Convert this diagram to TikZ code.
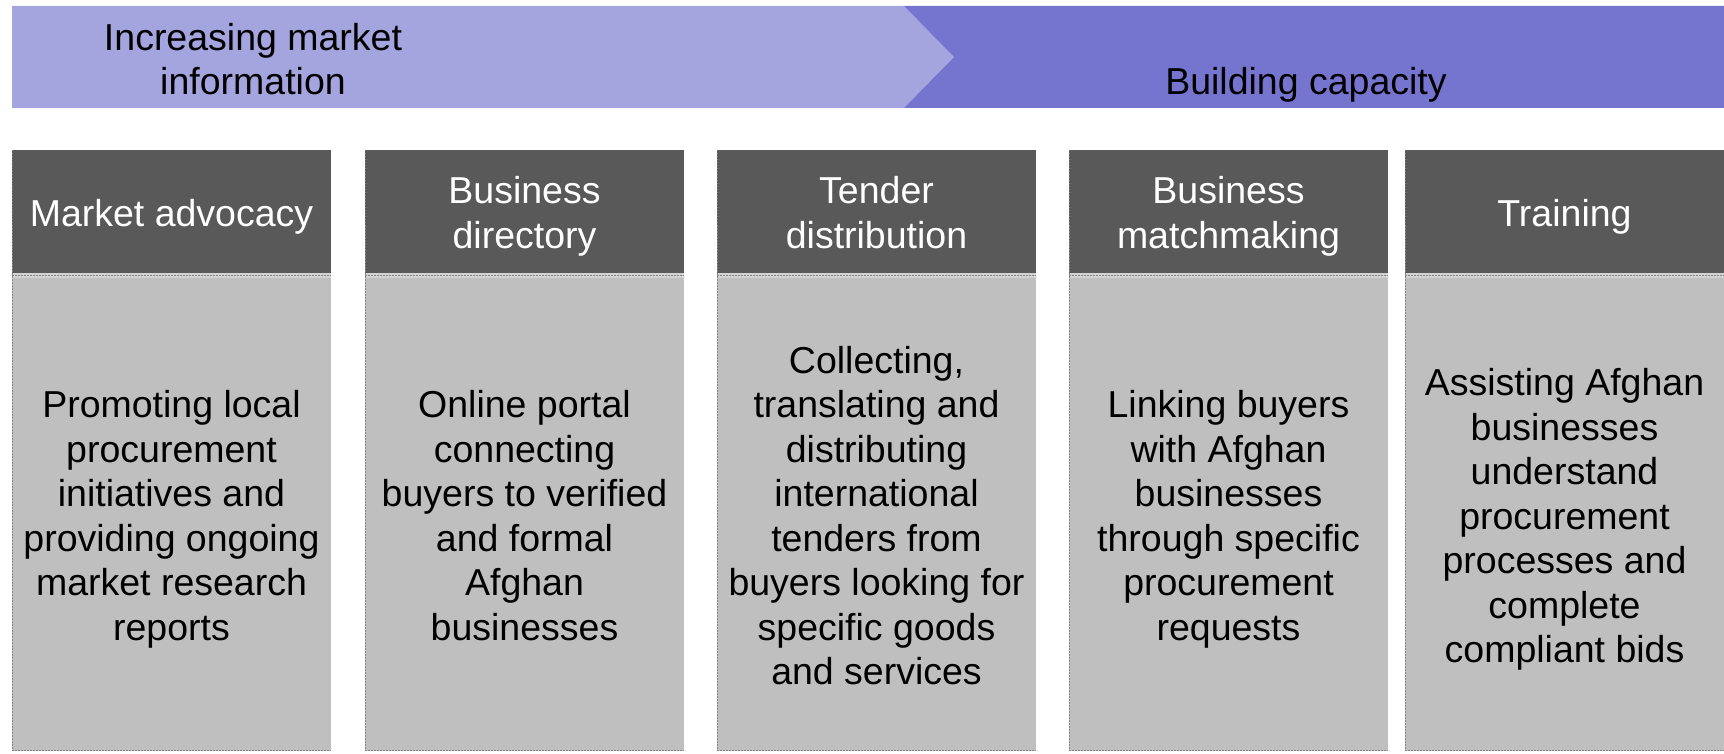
\documentclass[tikz,border=0pt]{standalone}
\usepackage{fontspec}
\setmainfont{Liberation Sans}
\definecolor{bannerlight}{HTML}{A4A4DF}
\definecolor{bannerdark}{HTML}{7575D0}
\definecolor{hdrgray}{HTML}{595959}
\definecolor{bodygray}{HTML}{BFBFBF}
\definecolor{seamgray}{HTML}{D2D2D2}
\newcommand{\tstrut}{\rule{0pt}{40pt}}
\tikzset{
  bigtext/.style={font=\fontsize{37.5}{44.5}\selectfont, align=center,
    execute at end node={\rule[-10.9pt]{0pt}{10.9pt}}},
  hdrbox/.style={bigtext, fill=hdrgray, text=white, draw=none, minimum width=319pt, minimum height=123pt, inner sep=0pt, outer sep=0pt, anchor=north west},
  bodybox/.style={bigtext, fill=bodygray, text=black, draw=none, minimum width=319pt, minimum height=473pt, inner sep=0pt, outer sep=0pt, anchor=north west},
  seam/.style={fill=seamgray, draw=none},
  seamdots/.style={draw=bodygray!70!black, line width=1.2pt, dash pattern=on 1.5pt off 1.5pt},
  bannertext/.style={bigtext, text=black}
}
\begin{document}
\begin{tikzpicture}[x=1pt,y=-1pt]
\useasboundingbox (0,0) rectangle (1724,754);
% banner
\fill[bannerlight] (12,6) -- (904,6) -- (954,57) -- (904,108) -- (12,108) -- cycle;
\fill[bannerdark] (904,6) -- (1724,6) -- (1724,108) -- (904,108) -- (954,57) -- cycle;
\node[bannertext] (b1) at (253,58) {\tstrut Increasing market\\information};
\node[bannertext] (b2) at (1306,80) {\tstrut Building capacity};
% columns
\foreach \i/\x/\h/\t in {
  1/12/{Market advocacy}/{Promoting local\\procurement\\initiatives and\\providing ongoing\\market research\\reports},
  2/365/{Business\\directory}/{Online portal\\connecting\\buyers to verified\\and formal\\Afghan\\businesses},
  3/717/{Tender\\distribution}/{Collecting,\\translating and\\distributing\\international\\tenders from\\buyers looking for\\specific goods\\and services},
  4/1069/{Business\\matchmaking}/{Linking buyers\\with Afghan\\businesses\\through specific\\procurement\\requests},
  5/1405/{Training}/{Assisting Afghan\\businesses\\understand\\procurement\\processes and\\complete\\compliant bids}} {
  \node[hdrbox] (h\i) at (\x,150) {\tstrut\h};
  \node[bodybox] (d\i) at (\x,278) {\tstrut\t};
  \fill[seam] (\x,273) rectangle ++(319,5);
  \draw[seamdots] (\x,275.5) -- ++(319,0);
  \draw[seamdots] (\x+0.6,150) -- (\x+0.6,751);
  \draw[seamdots] (\x,750.4) -- ++(319,0);
}
\end{tikzpicture}
\end{document}
